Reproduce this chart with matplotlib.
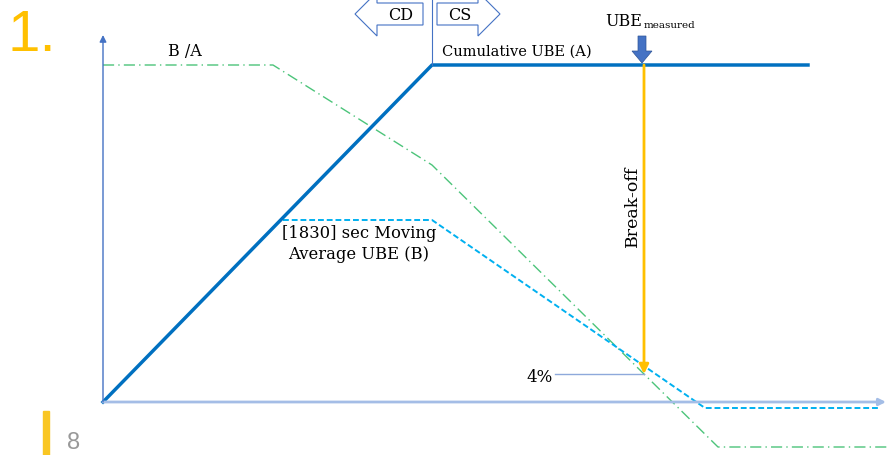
#!/usr/bin/env python3

import matplotlib
matplotlib.use("Agg")
import matplotlib.pyplot as plt
from matplotlib.patches import Polygon, FancyArrow

# Schematic coordinates: x = time, y = UBE level (origin at axes crossing)
cum_x = [0, 329, 705]
cum_y = [0, 337, 337]

ratio_x = [0, 170, 329, 615, 786]
ratio_y = [337, 337, 237, -45, -45]

mavg_x = [180, 329, 602, 775]
mavg_y = [182, 182, -6, -6]

breakoff_x = 541
breakoff_top = 337
breakoff_level = 28


def main():
    fig = plt.figure(figsize=(8.89, 4.55), dpi=100)
    ax = fig.add_axes([0, 0, 1, 1])
    ax.set_xlim(-103, 786)
    ax.set_ylim(-53, 402)
    ax.axis("off")

    serif = "DejaVu Serif"

    # axes arrows
    ax.annotate("", xy=(783, 0), xytext=(0, 0),
                arrowprops=dict(arrowstyle="-|>", color="#A4BDE6", lw=2,
                                mutation_scale=10, shrinkA=0, shrinkB=0))
    ax.annotate("", xy=(0, 367), xytext=(0, 0),
                arrowprops=dict(arrowstyle="-|>", color="#4472C4", lw=1,
                                mutation_scale=10, shrinkA=0, shrinkB=0))

    # curves
    ax.plot(ratio_x, ratio_y, color="#4CC47A", lw=1, linestyle=(0, (8, 3, 1, 3)))
    ax.plot(mavg_x, mavg_y, color="#00B0F0", lw=1.4, linestyle=(0, (3, 1.5)))
    ax.plot(cum_x, cum_y, color="#0070C0", lw=2.5)

    # divider between CD and CS
    ax.plot([329, 329], [337, 402], color="#4472C4", lw=0.8)

    # CD / CS block arrows
    cd = Polygon([(252, 388), (274, 410), (274, 399), (320, 399), (320, 377),
                  (274, 377), (274, 366)], closed=True, fc="white",
                 ec="#4472C4", lw=0.8)
    cs = Polygon([(397, 388), (375, 410), (375, 399), (334, 399), (334, 377),
                  (375, 377), (375, 366)], closed=True, fc="white",
                 ec="#4472C4", lw=0.8)
    ax.add_patch(cd)
    ax.add_patch(cs)
    ax.text(298, 386, "CD", fontsize=11.5, family=serif, ha="center", va="center")
    ax.text(357, 386, "CS", fontsize=11.5, family=serif, ha="center", va="center")

    # UBE measured marker
    ax.add_patch(FancyArrow(539, 366, 0, -27, width=8, head_width=20,
                            head_length=12, length_includes_head=True,
                            fc="#4472C4", ec="#2F5597", lw=0.5))
    ax.text(502, 381, "UBE", fontsize=11.5, family=serif, ha="left", va="center")
    ax.text(541, 376, "measured", fontsize=7.5, family=serif, ha="left", va="center")

    # break-off arrow
    ax.annotate("", xy=(breakoff_x, breakoff_level), xytext=(breakoff_x, breakoff_top),
                arrowprops=dict(arrowstyle="-|>", color="#FFC000", lw=2,
                                mutation_scale=14, shrinkA=0, shrinkB=0))
    ax.text(529, 196, "Break-off", fontsize=12.5, family=serif, rotation=90,
            ha="center", va="center")

    # 4% level
    ax.plot([452, breakoff_x], [breakoff_level, breakoff_level], color="#8EA9DB", lw=1)
    ax.text(437, 25, "4%", fontsize=12, family=serif, ha="center", va="center")

    # curve labels
    ax.text(414, 350, "Cumulative UBE (A)", fontsize=10.5, family=serif,
            ha="center", va="center")
    ax.text(82, 350, "B /A", fontsize=11.5, family=serif, ha="center", va="center")
    ax.text(256, 158, "[1830] sec Moving\nAverage UBE (B)", fontsize=11.8,
            family=serif, ha="center", va="center", linespacing=1.25)

    # slide decorations
    fig.text(8 / 889, 1 - 36 / 455, "1.", fontsize=42, color="#FFC000",
             ha="left", va="center", family="Liberation Sans")
    fig.add_artist(plt.Rectangle((43 / 889, 0), 6 / 889, 44 / 455,
                                 color="#F9C623", transform=fig.transFigure))
    fig.text(67 / 889, 1 / 455, "8", fontsize=17, color="#999999",
             ha="left", va="bottom", family="Liberation Sans")

    fig.savefig("out.png", dpi=100)


if __name__ == "__main__":
    main()
